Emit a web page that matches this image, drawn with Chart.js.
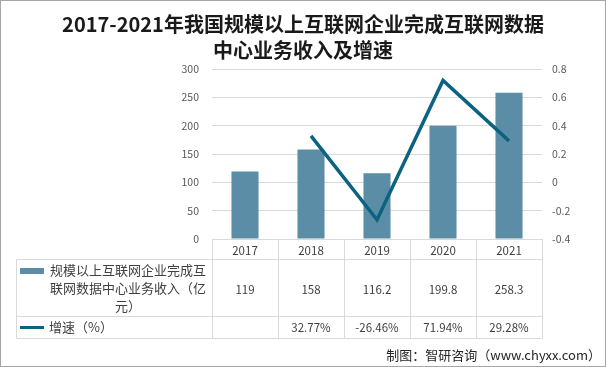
<!DOCTYPE html>
<html><head><meta charset="utf-8">
<script src="https://cdn.jsdelivr.net/npm/chart.js@4/dist/chart.umd.min.js"></script>
<style>
html,body{margin:0;padding:0;background:#fff;}
#wrap{position:relative;width:606px;height:367px;overflow:hidden;background:#fff;}
canvas{position:absolute;left:0;top:0;}
#frame{position:absolute;left:0;top:0;width:606px;height:367px;box-sizing:border-box;border:1px solid #a6a6a6;pointer-events:none;}
#title{position:absolute;left:0;top:11px;width:606px;text-align:center;font-family:"Noto Sans CJK SC",sans-serif;font-weight:bold;font-size:20px;line-height:26px;color:#1a1a1a;}
.t{position:absolute;font-family:"Noto Sans CJK SC",sans-serif;color:#404040;font-size:11.5px;white-space:nowrap;text-align:center;line-height:14px;}
.lab{position:absolute;font-family:"Noto Sans CJK SC",sans-serif;color:#404040;font-size:13px;line-height:18px;}
#credit{position:absolute;right:5px;top:346px;font-family:"Noto Sans CJK SC",sans-serif;font-size:13px;color:#262626;white-space:nowrap;line-height:18px;}
</style>
</head><body>
<div id="wrap">
<canvas id="c" width="606" height="367"></canvas>
<div id="title">2017-2021年我国规模以上互联网企业完成互联网数据<br>中心业务收入及增速</div>
<div id="table"></div>
<div id="credit">制图：智研咨询（www.chyxx.com）</div>
<div id="frame"></div>
</div>
<script>
const categories = ["2017", "2018", "2019", "2020", "2021"];
const revenue = [119, 158, 116.2, 199.8, 258.3];
const growth = [null, 0.3277, -0.2646, 0.7194, 0.2928];
const growthLabels = ["", "32.77%", "-26.46%", "71.94%", "29.28%"];
const revenueName = "规模以上互联网企业完成互联网数据中心业务收入（亿元）";
const growthName = "增速（%）";

const BAR = "#5b8ea6";
const LINE = "#0d6282";
const GRIDC = "#d9d9d9";

const tablePlugin = {
  id: "tablePlugin",
  afterDraw(chart) {
    const ctx = chart.ctx, ca = chart.chartArea;
    const n = categories.length, cw = (ca.right - ca.left) / n;
    const yTop = ca.bottom, yH = 259.5, yR1 = 316.5, yR2 = 338.5, xL = 16.5;
    ctx.save();
    ctx.strokeStyle = GRIDC; ctx.lineWidth = 1;
    ctx.beginPath();
    [yH, yR1, yR2].forEach(y => { ctx.moveTo(xL, y); ctx.lineTo(ca.right, y); });
    for (let i = 0; i <= n; i++) {
      const x = Math.round(ca.left + i * cw) + 0.5;
      ctx.moveTo(x, yTop); ctx.lineTo(x, yR2);
    }
    ctx.moveTo(xL, yH); ctx.lineTo(xL, yR2);
    ctx.stroke();
    ctx.fillStyle = BAR;
    ctx.fillRect(20, 268, 24, 6);
    ctx.strokeStyle = LINE; ctx.lineWidth = 3;
    ctx.beginPath(); ctx.moveTo(20, 327.5); ctx.lineTo(44, 327.5); ctx.stroke();
    ctx.restore();
  }
};

const chart = new Chart(document.getElementById("c"), {
  data: {
    labels: categories,
    datasets: [
      { type: "line", label: growthName, data: growth, yAxisID: "y1", borderColor: LINE, borderWidth: 3.5,
        pointRadius: 0, fill: false, tension: 0, spanGaps: true, borderJoinStyle: "miter", order: 0 },
      { type: "bar", label: revenueName, data: revenue, yAxisID: "y", backgroundColor: BAR,
        barPercentage: 0.41, categoryPercentage: 1, order: 1 }
    ]
  },
  options: {
    responsive: false, animation: false, devicePixelRatio: 1,
    layout: { padding: { top: 69, bottom: 128, left: 0, right: 0 } },
    plugins: { legend: { display: false }, title: { display: false }, tooltip: { enabled: false } },
    scales: {
      x: { display: false, offset: true },
      y: {
        position: "left", min: 0, max: 300,
        ticks: { stepSize: 50, color: "#595959", font: { family: "Noto Sans CJK SC", size: 10.5 }, padding: 13 },
        grid: { color: GRIDC, drawTicks: false }, border: { display: false },
        afterFit(s) { s.width = 212; }
      },
      y1: {
        position: "right", min: -0.4, max: 0.8,
        ticks: { stepSize: 0.2, color: "#595959", font: { family: "Noto Sans CJK SC", size: 10.5 }, padding: 10,
          callback: v => String(Number(v.toFixed(1))) },
        grid: { display: false, drawTicks: false }, border: { display: false },
        afterFit(s) { s.width = 64; }
      }
    }
  },
  plugins: [tablePlugin]
});

(function buildTable() {
  const ca = chart.chartArea, n = categories.length, cw = (ca.right - ca.left) / n;
  const host = document.getElementById("table");
  let html = "";
  categories.forEach((c, i) => {
    const cx = ca.left + (i + 0.5) * cw;
    html += `<div class="t" style="left:${cx - 30}px;width:60px;top:${250 - 7}px">${c}</div>`;
    html += `<div class="t" style="left:${cx - 30}px;width:60px;top:${289 - 7}px">${revenue[i]}</div>`;
    html += `<div class="t" style="left:${cx - 30}px;width:60px;top:${327 - 7}px">${growthLabels[i]}</div>`;
  });
  html += `<div class="lab" style="left:48px;top:261px;width:160px;text-align:center;">${revenueName}</div>`;
  html += `<div class="lab" style="left:49px;top:318px;white-space:nowrap;">${growthName}</div>`;
  host.innerHTML = html;
})();
</script>
</body></html>
